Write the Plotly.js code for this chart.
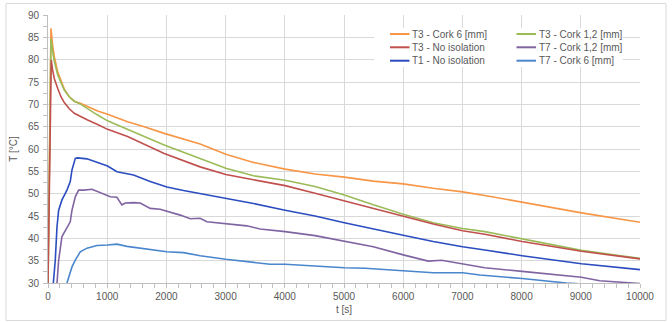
<!DOCTYPE html>
<html><head><meta charset="utf-8">
<script src="https://cdn.plot.ly/plotly-3.0.1.min.js"></script>
<style>html,body{margin:0;padding:0;background:#fff;}#chart{width:672px;height:322px;}</style>
</head><body><div id="chart"></div>
<script>
const seriesNames = ["T3 - Cork 6 [mm]", "T3 - Cork 1,2 [mm]", "T3 - No isolation", "T7 - Cork 1,2 [mm]", "T1 - No isolation", "T7 - Cork 6 [mm]"];

const t3Cork6_t = [0, 50, 78, 106, 163, 219, 275, 359, 444, 556, 669, 838, 1006, 1344, 1626, 1963, 2570, 3004, 3470, 4005, 4511, 5006, 5495, 6001, 6507, 7003, 7379, 8009, 9011, 10000];
const t3Cork6_T = [30, 87.0, 83.3, 80.7, 77.3, 75.1, 73.4, 71.7, 70.7, 70.2, 69.5, 68.5, 67.8, 66.1, 65.0, 63.5, 61.1, 58.8, 57.0, 55.5, 54.4, 53.7, 52.8, 52.2, 51.2, 50.4, 49.6, 48.1, 45.7, 43.6];

const t3Cork12_t = [0, 50, 78, 106, 163, 219, 275, 359, 444, 556, 669, 838, 1006, 1344, 1626, 1963, 2570, 3004, 3470, 4005, 4511, 5006, 5495, 6001, 6507, 7003, 7379, 8009, 9011, 10000];
const t3Cork12_T = [30, 84.7, 81.8, 79.6, 76.6, 74.7, 73.2, 71.7, 70.7, 70.0, 69.0, 67.6, 66.3, 64.3, 62.8, 60.9, 57.9, 55.7, 54.0, 53.0, 51.6, 49.7, 47.5, 45.4, 43.5, 42.2, 41.5, 39.9, 37.3, 35.5];

const t3NoIso_t = [0, 55, 78, 106, 163, 219, 275, 359, 444, 556, 669, 838, 1006, 1344, 1626, 1963, 2570, 3004, 3470, 4005, 4511, 5006, 5495, 6001, 6507, 7003, 7379, 8009, 9011, 10000];
const t3NoIso_T = [30, 79.9, 77.7, 75.8, 73.6, 71.7, 70.4, 69.0, 68.0, 67.2, 66.5, 65.5, 64.4, 62.8, 61.0, 59.0, 56.0, 54.3, 53.1, 51.8, 50.1, 48.4, 46.6, 44.9, 43.2, 41.7, 40.9, 39.3, 37.1, 35.4];

const t7Cork12_t = [152, 180, 236, 320, 376, 405, 461, 517, 602, 743, 883, 1052, 1164, 1248, 1305, 1445, 1558, 1726, 1895, 2008, 2233, 2402, 2570, 2683, 3004, 3358, 3583, 4005, 4511, 5006, 5495, 6001, 6423, 6648, 7003, 7379, 8009, 9011, 9320, 10000];
const t7Cork12_T = [30, 35.1, 40.4, 42.6, 43.7, 46.3, 49.3, 50.8, 50.8, 51.0, 50.2, 49.3, 49.2, 47.5, 47.9, 48.0, 47.9, 46.7, 46.5, 46.1, 45.2, 44.4, 44.5, 43.7, 43.2, 42.8, 42.1, 41.5, 40.6, 39.3, 38.1, 36.3, 34.9, 35.1, 34.2, 33.4, 32.6, 31.3, 30.5, 29.9];

const t1NoIso_t = [90, 123, 152, 180, 236, 320, 376, 405, 461, 500, 658, 827, 1006, 1164, 1445, 1726, 2008, 2289, 2570, 3004, 3470, 4005, 4511, 5006, 5495, 6001, 6507, 7003, 7379, 8009, 9011, 10000];
const t1NoIso_T = [30, 35.1, 42.6, 46.3, 48.6, 50.8, 52.7, 55.3, 57.9, 58.0, 57.8, 57.0, 56.2, 54.9, 54.2, 52.7, 51.5, 50.7, 50.0, 49.0, 47.8, 46.3, 45.0, 43.5, 42.2, 40.7, 39.3, 38.1, 37.4, 36.1, 34.3, 33.0];

const t7Cork6_t = [320, 405, 461, 545, 658, 827, 1006, 1164, 1333, 1558, 1726, 2008, 2289, 2570, 3004, 3470, 3751, 4005, 4595, 5006, 5354, 6001, 6507, 7003, 7295, 8009, 8420, 8758, 10000];
const t7Cork6_T = [30, 33.6, 35.1, 37.0, 37.8, 38.4, 38.5, 38.7, 38.2, 37.8, 37.4, 37.0, 36.8, 36.1, 35.3, 34.6, 34.2, 34.2, 33.7, 33.4, 33.3, 32.7, 32.3, 32.3, 31.8, 31.0, 30.4, 30.0, 29.0];

const xTicks = [0, 1000, 2000, 3000, 4000, 5000, 6000, 7000, 8000, 9000, 10000];
const yTicks = [30, 35, 40, 45, 50, 55, 60, 65, 70, 75, 80, 85, 90];

const colors = ["#F79646", "#9BBB59", "#C0504D", "#8064A2", "#2B4DBF", "#4A86CC"];
const xs = [t3Cork6_t, t3Cork12_t, t3NoIso_t, t7Cork12_t, t1NoIso_t, t7Cork6_t];
const ys = [t3Cork6_T, t3Cork12_T, t3NoIso_T, t7Cork12_T, t1NoIso_T, t7Cork6_T];

const traces = seriesNames.map((n, i) => ({
  type: "scatter", mode: "lines", name: n, x: xs[i], y: ys[i],
  line: {color: colors[i], width: 1.6}, cliponaxis: true, showlegend: false
}));

// plot area in pixels: left 48, right 640, top 15, bottom 283
const PL = 48, PW = 592, PB = 283, PH = 268;
const px = v => (v - PL) / PW;
const py = v => (PB - v) / PH;

const font = "Liberation Sans Narrow, Arial Narrow, Liberation Sans, Arial, sans-serif";

// legend drawn as shapes + text annotations (two columns, three rows)
const legendPos = [[0, 0], [1, 0], [0, 1], [1, 1], [0, 2], [1, 2]]; // [col,row] for each series
const colLineX = [390, 516.5];
const rowY = [34, 47.3, 60.7];
const shapes = [{
  type: "rect", xref: "paper", yref: "paper",
  x0: (6 - PL) / PW, x1: (666 - PL) / PW, y0: py(320.5), y1: py(3.5),
  line: {color: "#d9d9d9", width: 1}, fillcolor: "rgba(0,0,0,0)", layer: "below"
}, {
  type: "rect", xref: "paper", yref: "paper",
  x0: px(374), x1: px(623), y0: py(67), y1: py(28),
  line: {width: 0}, fillcolor: "#ffffff", layer: "above"
}];
const annotations = [];
seriesNames.forEach((n, i) => {
  const [c, r] = legendPos[i];
  const x0 = colLineX[c];
  shapes.push({
    type: "line", xref: "paper", yref: "paper",
    x0: px(x0), x1: px(x0 + 19.5), y0: py(rowY[r]), y1: py(rowY[r]),
    line: {color: colors[i], width: 2}, layer: "above"
  });
  annotations.push({
    xref: "paper", yref: "paper", x: px(x0 + 20.5), y: py(rowY[r]),
    xanchor: "left", yanchor: "middle", showarrow: false, text: n,
    font: {family: font, size: 10, color: "#595959"}
  });
});

const layout = {
  width: 672, height: 322,
  margin: {l: PL, r: 672 - PL - PW, t: 15, b: 322 - PB},
  paper_bgcolor: "#ffffff", plot_bgcolor: "#ffffff",
  font: {family: font, size: 10, color: "#595959"},
  showlegend: false,
  xaxis: {
    range: [0, 10000], tickvals: xTicks, ticktext: xTicks.map(String),
    showgrid: true, gridcolor: "#d9d9d9", gridwidth: 1,
    showline: true, linecolor: "#bfbfbf", linewidth: 1,
    ticks: "outside", ticklen: 4, tickcolor: "#bfbfbf",
    minor: {ticks: "outside", dtick: 200, ticklen: 4, tickcolor: "#bfbfbf", showgrid: false},
    zeroline: false, tickfont: {size: 10, color: "#595959"},
    title: {text: "t [s]", font: {size: 10, color: "#595959"}, standoff: 4}
  },
  yaxis: {
    range: [30, 90], tickvals: yTicks, ticktext: yTicks.map(String),
    showgrid: true, gridcolor: "#d9d9d9", gridwidth: 1,
    showline: true, linecolor: "#bfbfbf", linewidth: 1,
    ticks: "outside", ticklen: 4, tickcolor: "#bfbfbf",
    minor: {ticks: "outside", dtick: 2.5, ticklen: 4, tickcolor: "#bfbfbf", showgrid: false},
    zeroline: false, tickfont: {size: 10, color: "#595959"},
    ticklabelstandoff: 2,
    title: {text: "T [°C]", font: {size: 10, color: "#595959"}, standoff: 8}
  },
  shapes: shapes,
  annotations: annotations
};

Plotly.newPlot("chart", traces, layout, {staticPlot: true, displayModeBar: false});
</script></body></html>
